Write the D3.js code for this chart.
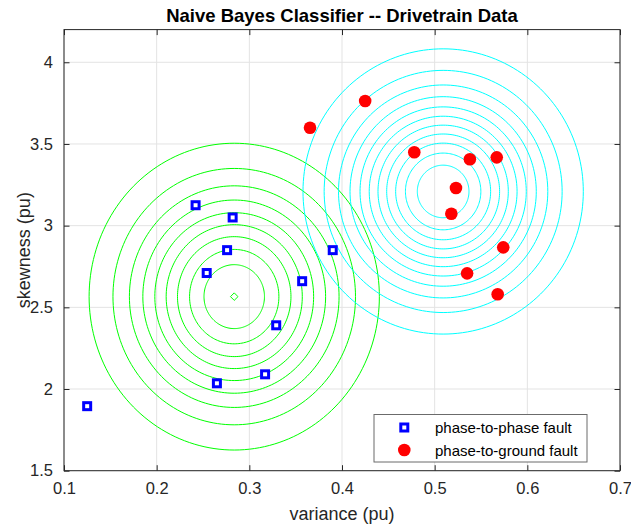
<!DOCTYPE html>
<html>
<head>
<meta charset="utf-8">
<script src="https://cdn.jsdelivr.net/npm/d3@7"></script>
<style>
  html, body { margin: 0; padding: 0; background: #fff; }
  svg { display: block; }
  text { font-family: Arial, "Liberation Sans", Helvetica, sans-serif; }
</style>
</head>
<body>
<svg id="chart" width="631" height="527"></svg>
<script>
// ---------------- data ----------------
const titleText = "Naive Bayes Classifier -- Drivetrain Data";
const xLabelText = "variance (pu)";
const yLabelText = "skewness (pu)";
const xTicks = [0.1, 0.2, 0.3, 0.4, 0.5, 0.6, 0.7];
const yTicks = [1.5, 2, 2.5, 3, 3.5, 4];
const xTickLabels = ["0.1", "0.2", "0.3", "0.4", "0.5", "0.6", "0.7"];
const yTickLabels = ["1.5", "2", "2.5", "3", "3.5", "4"];
const xDomain = [0.1, 0.7];
const yDomain = [1.5, 4.2];

// phase-to-phase fault samples
const p2pVariance = [0.125, 0.242, 0.282, 0.276, 0.254, 0.390, 0.357, 0.329, 0.317, 0.265];
const p2pSkewness = [1.895, 3.125, 3.05, 2.85, 2.71, 2.85, 2.66, 2.39, 2.09, 2.035];
// phase-to-ground fault samples
const p2gVariance = [0.425, 0.3655, 0.478, 0.538, 0.567, 0.523, 0.518, 0.574, 0.535, 0.568];
const p2gSkewness = [3.763, 3.599, 3.449, 3.406, 3.418, 3.230, 3.073, 2.867, 2.708, 2.580];

// contour levels of the class-conditional Gaussian densities
const contourLevels = [0.5, 1, 1.5, 2, 2.5, 3, 3.5, 4, 4.5, 5, 5.5];
const seriesNames = ["phase-to-phase fault", "phase-to-ground fault"];

// ---------------- layout ----------------
const W = 631, H = 527;
const plot = { left: 64, right: 620, top: 29.6, bottom: 470.7 };
const x = d3.scaleLinear().domain(xDomain).range([plot.left, plot.right]);
const y = d3.scaleLinear().domain(yDomain).range([plot.bottom, plot.top]);

const svg = d3.select("#chart");
svg.append("rect").attr("width", W).attr("height", H).attr("fill", "#fff");

const axisColor = "#262626";

// grid
const grid = svg.append("g");
grid.selectAll(".gx").data(xTicks).enter().append("line")
  .attr("x1", d => x(d)).attr("x2", d => x(d))
  .attr("y1", plot.top).attr("y2", plot.bottom)
  .attr("stroke", "#e3e3e3").attr("stroke-width", 1);
grid.selectAll(".gy").data(yTicks).enter().append("line")
  .attr("x1", plot.left).attr("x2", plot.right)
  .attr("y1", d => y(d)).attr("y2", d => y(d))
  .attr("stroke", "#e3e3e3").attr("stroke-width", 1);

// Gaussian stats per class
function stats(xs, ys) {
  const mx = d3.mean(xs), my = d3.mean(ys);
  const sx = d3.deviation(xs), sy = d3.deviation(ys);
  return { mx, my, sx, sy, peak: 1 / (2 * Math.PI * sx * sy) };
}
const gP2P = stats(p2pVariance, p2pSkewness);
const gP2G = stats(p2gVariance, p2gSkewness);

const line = d3.line().x(d => x(d[0])).y(d => y(d[1]));
const angles = d3.range(0, 361, 2).map(a => a * Math.PI / 180);

function drawContours(g, color) {
  const grp = svg.append("g");
  contourLevels.filter(L => L < g.peak).forEach(L => {
    const k = Math.sqrt(2 * Math.log(g.peak / L));
    const pts = angles.map(t => [g.mx + g.sx * k * Math.cos(t), g.my + g.sy * k * Math.sin(t)]);
    grp.append("path").attr("d", line(pts))
      .attr("fill", "none").attr("stroke", color).attr("stroke-width", 1);
  });
}
drawContours(gP2P, "#00ff00");
drawContours(gP2G, "#00ffff");

// markers
const p2p = p2pVariance.map((v, i) => [v, p2pSkewness[i]]);
const p2g = p2gVariance.map((v, i) => [v, p2gSkewness[i]]);

svg.append("g").selectAll("rect").data(p2p).enter().append("rect")
  .attr("x", d => x(d[0]) - 3.5).attr("y", d => y(d[1]) - 3.5)
  .attr("width", 7).attr("height", 7)
  .attr("fill", "#fff").attr("stroke", "#0000ff").attr("stroke-width", 3);

svg.append("g").selectAll("circle").data(p2g).enter().append("circle")
  .attr("cx", d => x(d[0])).attr("cy", d => y(d[1])).attr("r", 6.3)
  .attr("fill", "#ff0000");

// class mean marker (diamond)
svg.append("path")
  .attr("d", d3.symbol(d3.symbolDiamond2, 36)())
  .attr("transform", `translate(${x(gP2P.mx)},${y(gP2P.my)})`)
  .attr("fill", "none").attr("stroke", "#00ff00").attr("stroke-width", 1);

// frame
svg.append("rect")
  .attr("x", plot.left).attr("y", plot.top)
  .attr("width", plot.right - plot.left).attr("height", plot.bottom - plot.top)
  .attr("fill", "none").attr("stroke", axisColor).attr("stroke-width", 1);

// axes with inward ticks (bottom/left) and mirrored ticks (top/right)
const tl = 5.5;
const xAxis = d3.axisBottom(x).tickValues(xTicks).tickFormat((d, i) => xTickLabels[i]).tickSizeInner(-tl).tickSizeOuter(0).tickPadding(12);
const yAxis = d3.axisLeft(y).tickValues(yTicks).tickFormat((d, i) => yTickLabels[i]).tickSizeInner(-tl).tickSizeOuter(0).tickPadding(11);
const xTop = d3.axisTop(x).tickValues(xTicks).tickFormat("").tickSizeInner(-tl).tickSizeOuter(0);
const yRight = d3.axisRight(y).tickValues(yTicks).tickFormat("").tickSizeInner(-tl).tickSizeOuter(0);

function styleAxis(sel) {
  sel.select(".domain").remove();
  sel.selectAll("line").attr("stroke", axisColor);
  sel.selectAll("text").attr("fill", axisColor).style("font-size", "16.5px")
    .style("font-family", "Arial, 'Liberation Sans', sans-serif");
}
svg.append("g").attr("transform", `translate(0,${plot.bottom})`).call(xAxis).call(styleAxis);
svg.append("g").attr("transform", `translate(${plot.left},0)`).call(yAxis).call(styleAxis);
svg.append("g").attr("transform", `translate(0,${plot.top})`).call(xTop).call(styleAxis);
svg.append("g").attr("transform", `translate(${plot.right},0)`).call(yRight).call(styleAxis);

// labels
const cx = (plot.left + plot.right) / 2;
svg.append("text").attr("x", cx).attr("y", 22).attr("text-anchor", "middle")
  .style("font-size", "18.5px").style("font-weight", "bold").attr("fill", "#000").text(titleText);
svg.append("text").attr("x", cx).attr("y", 520).attr("text-anchor", "middle")
  .style("font-size", "18px").attr("fill", axisColor).text(xLabelText);
svg.append("text").attr("transform", `translate(30,${(plot.top + plot.bottom) / 2}) rotate(-90)`)
  .attr("text-anchor", "middle").style("font-size", "18px").attr("fill", axisColor).text(yLabelText);

// legend
const leg = svg.append("g").attr("transform", "translate(374,414.5)");
leg.append("rect").attr("width", 213).attr("height", 47.5)
  .attr("fill", "#fff").attr("stroke", "#6b6b6b").attr("stroke-width", 1);
leg.append("rect").attr("x", 30.3 - 3.5).attr("y", 13 - 3.5).attr("width", 7).attr("height", 7)
  .attr("fill", "#fff").attr("stroke", "#0000ff").attr("stroke-width", 3);
leg.append("circle").attr("cx", 30.3).attr("cy", 35.5).attr("r", 6.3).attr("fill", "#ff0000");
leg.append("text").attr("x", 61).attr("y", 18.5).style("font-size", "15px").attr("fill", "#000").text(seriesNames[0]);
leg.append("text").attr("x", 61).attr("y", 41).style("font-size", "15px").attr("fill", "#000").text(seriesNames[1]);
</script>
</body>
</html>
